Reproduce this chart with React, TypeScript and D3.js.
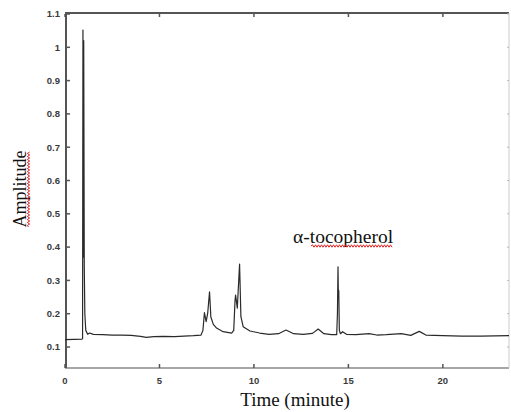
import React from 'react';
import * as d3 from 'd3';

const W = 511, H = 412;

// chromatogram trace (time in minutes, amplitude)
const times = [
  0, 0.5, 0.9, 0.93, 0.95, 0.97, 0.99, 1.02, 1.05, 1.1, 1.2, 1.3, 1.5, 2, 2.5, 3, 3.5, 4, 4.3, 4.7,
  5.2, 5.8, 6.3, 6.8, 7.2, 7.3, 7.38, 7.47, 7.55, 7.65, 7.72, 7.85, 8.02, 8.37, 8.82, 8.93, 9.0, 9.03,
  9.12, 9.24, 9.31, 9.43, 9.79, 10.3, 10.8, 11.3, 11.7, 12.1, 12.6, 13.1, 13.4, 13.7, 14.1, 14.38,
  14.42, 14.45, 14.47, 14.49, 14.52, 14.58, 14.69, 14.9, 15.4, 16.1, 16.5, 17.0, 17.8, 18.3, 18.75,
  19.1, 20, 21, 22, 23.5,
];
const amplitudes = [
  0.122, 0.123, 0.124, 0.125, 1.052, 0.37, 1.02, 0.34, 0.2, 0.15, 0.138, 0.142, 0.138, 0.137, 0.136,
  0.136, 0.135, 0.132, 0.129, 0.131, 0.132, 0.131, 0.133, 0.134, 0.136, 0.15, 0.203, 0.176, 0.2, 0.266,
  0.19, 0.168, 0.157, 0.146, 0.142, 0.15, 0.24, 0.256, 0.217, 0.349, 0.191, 0.161, 0.148, 0.142, 0.138,
  0.14, 0.151, 0.14, 0.138, 0.141, 0.154, 0.14, 0.137, 0.137, 0.2, 0.341, 0.25, 0.27, 0.15, 0.14,
  0.146, 0.138, 0.137, 0.14, 0.136, 0.137, 0.14, 0.135, 0.147, 0.136, 0.134, 0.133, 0.133, 0.134,
];

const xTicks = [0, 5, 10, 15, 20];
const yTicks = [0.1, 0.2, 0.3, 0.4, 0.5, 0.6, 0.7, 0.8, 0.9, 1, 1.1];

const xTitle = 'Time (minute)';
const yTitle = 'Amplitude';
const peakLabel = 'α-tocopherol';

const serif = "'Liberation Serif', 'Times New Roman', 'DejaVu Serif', serif";
const sans = "'Liberation Sans', Arial, sans-serif";

// red spell-check squiggle
const squiggle = (x0: number, x1: number, y: number) => {
  let d = `M${x0},${y}`;
  let up = true;
  for (let x = x0 + 1.5; x <= x1; x += 1.5) {
    d += `L${x},${y + (up ? -1.2 : 1.2)}`;
    up = !up;
  }
  return d;
};

const App = () => {
  const x = d3.scaleLinear().domain([0, 23.5]).range([65, 509]);
  const y = d3.scaleLinear().domain([0.037, 1.1]).range([368, 14]);

  const pts: [number, number][] = times.map((t, i) => [t, amplitudes[i]]);
  const line = d3.line<[number, number]>()
    .x(d => x(d[0]))
    .y(d => y(d[1]));

  const [x0, x1] = x.range();
  const [yb, yt] = y.range();

  return <svg width={W} height={H} style={{ position: 'absolute', left: 0, top: 0 }}>
    <rect width={W} height={H} fill='#fff' />
    {/* frame */}
    <line x1={x0} x2={x1} y1={yb} y2={yb} stroke='#8a8a8a' strokeWidth={1.5} />
    <line x1={x0} x2={x1} y1={yt - 1} y2={yt - 1} stroke='#555' strokeWidth={2} />
    <line x1={x1} x2={x1} y1={yt - 1} y2={yb} stroke='#ccc' strokeWidth={1} />
    <line x1={x0 + 1} x2={x0 + 1} y1={yt - 2} y2={yb} stroke='#555' strokeWidth={2} />

    {/* x ticks */}
    <g className='xAxis'>
      {xTicks.map(t => <g key={t}>
        <line x1={x(t)} x2={x(t)} y1={yb} y2={yb - 4} stroke='#555' strokeWidth={1.5} />
        <line x1={x(t)} x2={x(t)} y1={yt} y2={yt + 3} stroke='#555' strokeWidth={1.5} />
        <text x={x(t)} y={yb + 16} textAnchor='middle' fontFamily={sans}
          fontSize={9.5} fontWeight='bold' fill='#3a3a3a'>{t}</text>
      </g>)}
    </g>

    {/* y ticks */}
    <g className='yAxis'>
      {yTicks.map(v => <g key={v}>
        <line x1={x0 + 1} x2={x0 + 5} y1={y(v)} y2={y(v)} stroke='#555' strokeWidth={1.5} />
        <line x1={x1} x2={x1 - 2} y1={y(v)} y2={y(v)} stroke='#bbb' strokeWidth={1} />
        <text x={x0 - 5} y={y(v)} dy='0.35em' textAnchor='end' fontFamily={sans}
          fontSize={9.5} fontWeight='bold' fill='#3a3a3a'>{v}</text>
      </g>)}
    </g>

    {/* trace */}
    <path d={line(pts) ?? ''} fill='none' stroke='#2a2a2a' strokeWidth={1.2} strokeLinejoin='round' />

    {/* labels */}
    <text x={295} y={406} textAnchor='middle' fontFamily={serif}
      fontSize={19} fill='#111'>{xTitle}</text>
    <g transform='translate(26,189) rotate(-90)'>
      <text x={0} y={0} textAnchor='middle' fontFamily={serif}
        fontSize={18} fill='#111'>{yTitle}</text>
      <path d={squiggle(-38, 38, 2.5)} fill='none' stroke='#e02020' strokeWidth={1} />
    </g>
    <text x={293} y={243} fontFamily={serif}
      fontSize={19.5} fill='#111'>{peakLabel}</text>
    <path d={squiggle(311, 393, 246)} fill='none' stroke='#e02020' strokeWidth={1} />
  </svg>;
};

export default App;
